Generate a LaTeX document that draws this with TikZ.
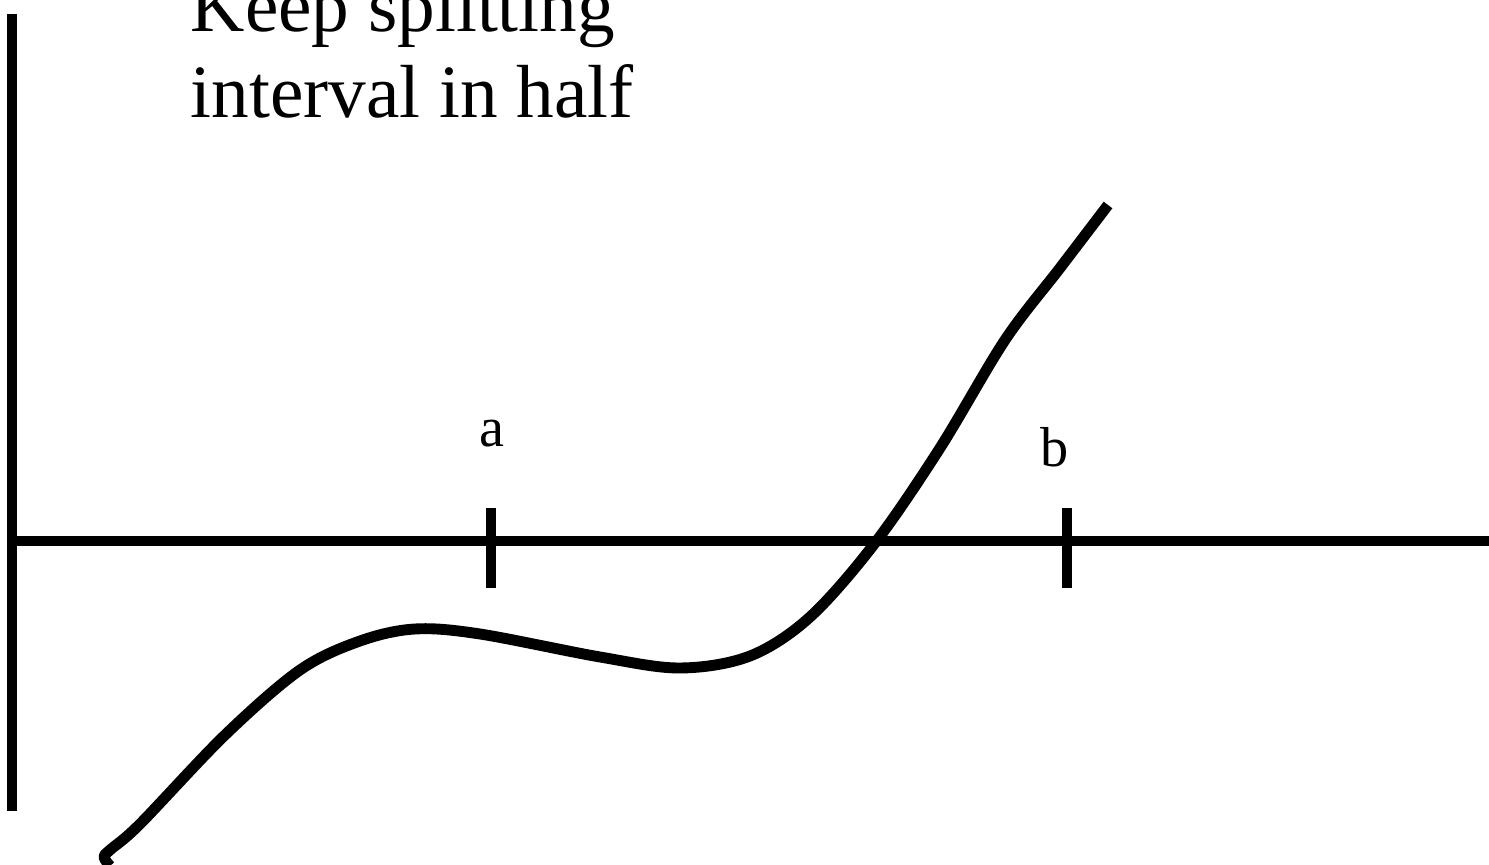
\documentclass[tikz,border=0pt]{standalone}
\usepackage{fontspec}
\setmainfont{Liberation Serif}
\usetikzlibrary{positioning}

\begin{document}
\begin{tikzpicture}[
    x=0.01cm, y=-0.01cm,
    axis/.style={line width=3.1pt},
    tick/.style={line width=3.1pt},
    curve/.style={line width=3.1pt, line join=round},
    lbl/.style={font=\fontsize{16}{18}\selectfont, inner sep=0pt},
    title/.style={font=\fontsize{21.4}{24.5}\selectfont, align=left, inner sep=0pt},
  ]
  \useasboundingbox (0,0) rectangle (1489,865);

  % --- Axes ---------------------------------------------------------------
  \coordinate (ytop) at (12,14);
  \coordinate (ybot) at (12,811);
  \coordinate (xleft) at (12,541);
  \coordinate (xright) at (1489,541);
  \draw[axis] (ytop) -- (ybot);
  \draw[axis] (xleft) -- (xright);

  % --- Interval ends ------------------------------------------------------
  \coordinate (ta) at (491,541);
  \coordinate (tb) at (1067,541);
  \draw[tick] ([yshift=0.33cm]ta) -- ([yshift=-0.47cm]ta);
  \draw[tick] ([yshift=0.33cm]tb) -- ([yshift=-0.47cm]tb);
  \node[lbl] (la) at (492,434) {a};
  \node[lbl] (lb) at (1055,447) {b};

  % --- Function -----------------------------------------------------------
  \draw[curve] plot[smooth, tension=0.55] coordinates {
    (110,866) (104,857) (110,850) (140,824) (225,735) (300,670) (360,641)
    (415,629) (480,634) (600,657) (680,668) (750,656) (810,617)
    (875,543) (940,448) (1005,340) (1060,268) (1108,205)};

  % --- Caption ------------------------------------------------------------
  \node[title, anchor=base west] (cap) at (190,118)
    {Keep splitting\\interval in half};

\end{tikzpicture}
\end{document}
